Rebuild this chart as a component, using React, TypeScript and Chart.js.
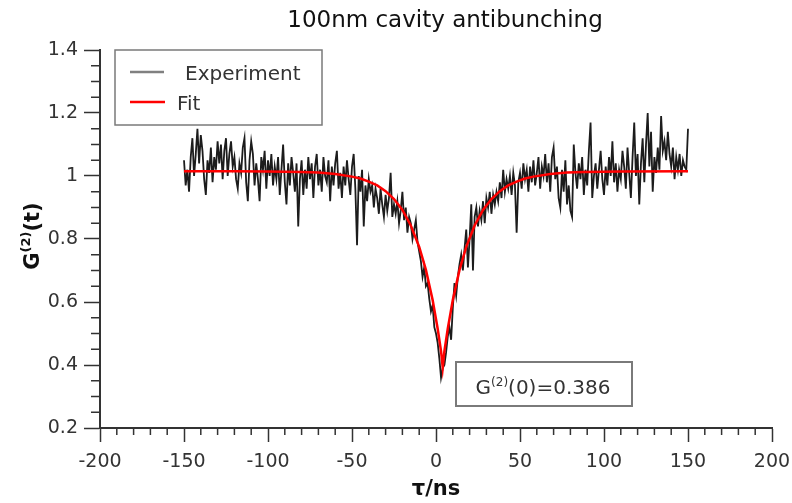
import React, { useEffect, useRef } from "react";
import { Chart, registerables } from "chart.js";

Chart.register(...registerables);

const TITLE = "100nm cavity antibunching";
const X_LABEL = "τ/ns";
const LEGEND_LABELS = ["Experiment", "Fit"];
const ANNOTATION_VALUE = "0.386";

const X_MIN = -200;
const X_MAX = 200;
const X_STEP = 50;
const X_MINOR = 10;
const Y_MIN = 0.2;
const Y_MAX = 1.4;
const Y_STEP = 0.2;
const Y_MINOR = 0.05;

// Experiment: regular tau grid from -150 ns to 150 ns in 1 ns bins
const TAU_START = -150;
const TAU_STEP = 1;
const experimentValues = [
  1.05, 0.97, 1.02, 0.95, 1.06, 1.12, 1.0, 1.07, 1.15, 1.04,
  1.13, 1.08, 0.99, 0.94, 1.05, 1.01, 1.09, 0.98, 1.06, 1.02,
  1.11, 1.04, 1.1, 0.99, 1.08, 1.12, 1.0, 1.07, 1.11, 1.03,
  1.06, 0.99, 0.96, 1.04, 1.01, 1.09, 1.12, 0.98, 0.92, 1.05,
  1.11, 1.07, 0.97, 1.04, 0.99, 0.92, 1.06, 1.02, 1.08, 0.96,
  1.05, 1.0, 1.07, 0.97, 1.03, 0.99, 1.06, 0.94, 1.02, 1.1,
  0.98, 0.91, 1.04, 0.97, 1.06, 1.01, 0.95, 1.04, 0.84, 0.99,
  1.05, 0.94, 1.02, 0.96, 1.06, 0.99, 1.04, 0.93, 1.03, 1.07,
  0.97, 1.02, 0.95, 1.06, 1.0, 0.98, 1.05, 0.92, 1.03, 0.97,
  1.04, 1.08, 0.96, 1.01, 0.93, 1.03, 0.97, 1.05, 0.99, 0.94,
  1.03, 1.07, 0.96, 0.78, 1.0, 0.95, 1.02, 0.84, 0.97, 0.92,
  0.99, 0.95, 0.97, 0.9, 0.96, 0.93, 0.88, 0.96, 0.91, 0.87,
  0.94, 0.89, 0.93, 1.01, 0.87, 0.91, 0.88, 0.92, 0.85, 0.89,
  0.95, 0.86, 0.9, 0.82, 0.87, 0.85, 0.8, 0.83, 0.86, 0.79,
  0.76, 0.73, 0.68, 0.71, 0.65, 0.66, 0.61, 0.57, 0.59, 0.52,
  0.5, 0.47, 0.42, 0.36, 0.39, 0.4, 0.44, 0.49, 0.52, 0.48,
  0.58, 0.66, 0.62, 0.68, 0.72, 0.75, 0.7, 0.77, 0.83, 0.71,
  0.8, 0.91, 0.7, 0.87, 0.9, 0.84, 0.89, 0.86, 0.92, 0.85,
  0.93, 0.9, 0.95, 0.88, 0.94, 0.91, 0.95, 0.92, 0.98, 0.93,
  1.02, 0.95, 0.99, 0.96, 1.0, 0.94, 1.01, 0.97, 0.82, 0.98,
  1.01, 0.96, 1.04, 0.99, 1.02, 0.95, 1.03, 0.98, 1.05, 0.97,
  1.01, 1.06, 0.96, 1.03, 1.0, 1.07, 0.98, 1.04, 0.95, 1.06,
  1.09, 0.99, 1.03, 0.93, 0.9, 1.02, 0.95, 1.05, 0.91, 0.97,
  0.89, 0.87, 1.1, 1.01, 0.96, 1.04, 0.99, 1.06, 0.94, 1.02,
  0.97, 1.08, 1.17, 0.93, 1.0, 1.04, 0.96, 1.02, 1.08, 0.99,
  0.94, 1.03, 0.97, 1.06, 1.0, 1.11, 0.98, 1.04, 0.95, 1.02,
  0.99, 1.08, 1.03, 0.96, 1.09, 1.01, 0.93, 1.06, 1.17, 1.0,
  1.07, 0.91, 1.04, 1.12, 0.98, 1.1, 1.2, 1.03, 1.14, 0.95,
  1.06, 1.01, 1.09, 1.02, 1.19, 1.08, 1.11, 1.05, 1.14, 1.07,
  1.03, 1.09, 0.99, 1.06, 1.02, 1.07, 1.0, 1.05, 1.03, 1.02,
  1.15,
];

const fitTau = [
  -150, -120, -100, -80, -70, -60, -50, -45, -40, -35,
  -30, -25, -20, -15, -10, -6, -2, 1, 3, 4,
  5, 7, 10, 14, 18, 23, 28, 33, 38, 43,
  48, 53, 58, 68, 78, 88, 110, 150,
];
const fitValues = [
  1.015, 1.015, 1.014, 1.013, 1.011, 1.006, 0.998, 0.992, 0.982, 0.97,
  0.952, 0.927, 0.892, 0.843, 0.775, 0.702, 0.606, 0.515, 0.444, 0.392,
  0.444, 0.515, 0.606, 0.702, 0.775, 0.843, 0.892, 0.927, 0.952, 0.97,
  0.982, 0.992, 0.998, 1.006, 1.011, 1.013, 1.014, 1.015,
];

const FONT = '"DejaVu Sans", Verdana, sans-serif';
const AXIS_COLOR = "#333333";
const TEXT_COLOR = "#333333";
const EXP_COLOR = "#1c1c1c";
const FIT_COLOR = "#ff0000";

function drawSuperLabel(
  ctx: CanvasRenderingContext2D,
  parts: { base: string; sup: string; rest: string },
  cx: number,
  baseline: number,
  size: number,
  supSize: number,
  weight: string
) {
  const big = `${weight} ${size}px ${FONT}`;
  const small = `${weight} ${supSize}px ${FONT}`;
  ctx.font = big;
  const w1 = ctx.measureText(parts.base).width;
  const w3 = ctx.measureText(parts.rest).width;
  ctx.font = small;
  const w2 = ctx.measureText(parts.sup).width;
  const total = w1 + w2 + w3;
  let x = cx - total / 2;
  ctx.textAlign = "left";
  ctx.textBaseline = "alphabetic";
  ctx.font = big;
  ctx.fillText(parts.base, x, baseline);
  x += w1;
  ctx.font = small;
  ctx.fillText(parts.sup, x, baseline - size * 0.42);
  x += w2;
  ctx.font = big;
  ctx.fillText(parts.rest, x, baseline);
}

const decorPlugin = {
  id: "decor",
  afterDraw(chart: any) {
    const ctx: CanvasRenderingContext2D = chart.ctx;
    const xs = chart.scales.x;
    const ys = chart.scales.y;
    const area = chart.chartArea;
    ctx.save();

    // minor ticks
    ctx.strokeStyle = AXIS_COLOR;
    ctx.lineWidth = 1.5;
    ctx.beginPath();
    const nx = Math.round((X_MAX - X_MIN) / X_MINOR);
    for (let i = 0; i <= nx; i++) {
      const v = X_MIN + i * X_MINOR;
      if (v % X_STEP === 0) continue;
      const p = xs.getPixelForValue(v);
      ctx.moveTo(p, area.bottom);
      ctx.lineTo(p, area.bottom + 7);
    }
    const ny = Math.round((Y_MAX - Y_MIN) / Y_MINOR);
    const per = Math.round(Y_STEP / Y_MINOR);
    for (let i = 0; i <= ny; i++) {
      if (i % per === 0) continue;
      const v = Y_MIN + i * Y_MINOR;
      const p = ys.getPixelForValue(v);
      ctx.moveTo(area.left, p);
      ctx.lineTo(area.left - 9, p);
    }
    ctx.stroke();

    // title
    ctx.fillStyle = "#111111";
    ctx.font = `23px ${FONT}`;
    ctx.textAlign = "center";
    ctx.textBaseline = "alphabetic";
    ctx.fillText(TITLE, 445, 27);

    // y axis title (rotated)
    ctx.save();
    ctx.translate(39, area.top + (area.bottom - area.top) / 2 - 3);
    ctx.rotate(-Math.PI / 2);
    ctx.fillStyle = "#111111";
    drawSuperLabel(ctx, { base: "G", sup: "(2)", rest: "(t)" }, 0, 0, 21, 13, "bold");
    ctx.restore();

    // legend box
    const lx = area.left + 15;
    const ly = area.top;
    const lw = 207;
    const lh = 75;
    ctx.fillStyle = "#ffffff";
    ctx.fillRect(lx, ly, lw, lh);
    ctx.strokeStyle = "#7a7a7a";
    ctx.lineWidth = 1.5;
    ctx.strokeRect(lx, ly, lw, lh);
    ctx.lineWidth = 2.5;
    ctx.strokeStyle = "#808080";
    ctx.beginPath();
    ctx.moveTo(lx + 15, ly + 22);
    ctx.lineTo(lx + 49, ly + 22);
    ctx.stroke();
    ctx.strokeStyle = FIT_COLOR;
    ctx.beginPath();
    ctx.moveTo(lx + 15, ly + 52);
    ctx.lineTo(lx + 50, ly + 52);
    ctx.stroke();
    ctx.fillStyle = TEXT_COLOR;
    ctx.font = `20px ${FONT}`;
    ctx.textAlign = "left";
    ctx.textBaseline = "alphabetic";
    ctx.fillText(LEGEND_LABELS[0], lx + 70, ly + 30);
    ctx.fillText(LEGEND_LABELS[1], lx + 62, ly + 60);

    // annotation box
    const bx = 456;
    const by = 362;
    const bw = 176;
    const bh = 44;
    ctx.fillStyle = "#ffffff";
    ctx.fillRect(bx, by, bw, bh);
    ctx.strokeStyle = "#7a7a7a";
    ctx.lineWidth = 2;
    ctx.strokeRect(bx, by, bw, bh);
    ctx.fillStyle = TEXT_COLOR;
    drawSuperLabel(
      ctx,
      { base: "G", sup: "(2)", rest: "(0)=" + ANNOTATION_VALUE },
      bx + bw / 2 - 1,
      by + 32,
      20,
      12,
      "normal"
    );

    ctx.restore();
  },
};

export default function App() {
  const canvasRef = useRef<HTMLCanvasElement | null>(null);

  useEffect(() => {
    const canvas = canvasRef.current;
    if (!canvas) return;
    const expData = experimentValues.map((y, i) => ({ x: TAU_START + i * TAU_STEP, y }));
    const fitData = fitTau.map((x, i) => ({ x, y: fitValues[i] }));

    const chart = new Chart(canvas, {
      type: "line",
      data: {
        datasets: [
          {
            label: LEGEND_LABELS[1],
            data: fitData,
            borderColor: FIT_COLOR,
            borderWidth: 2.5,
            pointRadius: 0,
            tension: 0,
            order: 0,
          },
          {
            label: LEGEND_LABELS[0],
            data: expData,
            borderColor: EXP_COLOR,
            borderWidth: 1.8,
            pointRadius: 0,
            tension: 0,
            order: 1,
          },
        ],
      },
      options: {
        responsive: false,
        maintainAspectRatio: false,
        devicePixelRatio: 1,
        animation: false,
        layout: { padding: { top: 50, right: 20, left: 0, bottom: 0 } },
        plugins: {
          legend: { display: false },
          title: { display: false },
          tooltip: { enabled: false },
        },
        scales: {
          x: {
            type: "linear",
            min: X_MIN,
            max: X_MAX,
            afterFit: (s: any) => {
              s.height = 75;
              s.paddingLeft = 0;
              s.paddingRight = 0;
            },
            ticks: {
              stepSize: X_STEP,
              color: TEXT_COLOR,
              font: { family: FONT, size: 19 },
              padding: 9,
              maxRotation: 0,
              autoSkip: false,
            },
            grid: {
              drawOnChartArea: false,
              drawTicks: true,
              tickLength: 14,
              tickColor: AXIS_COLOR,
              tickWidth: 1.5,
            },
            border: { display: true, color: AXIS_COLOR, width: 2 },
            title: {
              display: true,
              text: X_LABEL,
              color: "#111111",
              font: { family: FONT, size: 21, weight: "bold" },
              padding: { top: 0, bottom: 1 },
            },
          },
          y: {
            type: "linear",
            min: Y_MIN,
            max: Y_MAX,
            afterFit: (s: any) => {
              s.width = 100;
              s.paddingTop = 0;
              s.paddingBottom = 0;
            },
            ticks: {
              stepSize: Y_STEP,
              color: TEXT_COLOR,
              font: { family: FONT, size: 19 },
              padding: 6,
              autoSkip: false,
              callback: (v: any) => String(Math.round(Number(v) * 10) / 10),
            },
            grid: {
              drawOnChartArea: false,
              drawTicks: true,
              tickLength: 16,
              tickColor: AXIS_COLOR,
              tickWidth: 1.5,
            },
            border: { display: true, color: AXIS_COLOR, width: 2 },
          },
        },
      },
      plugins: [decorPlugin],
    });
    return () => chart.destroy();
  }, []);

  return (
    <div style={{ position: "absolute", left: 0, top: 0, width: 792, height: 503, background: "#ffffff" }}>
      <canvas ref={canvasRef} width={792} height={503} style={{ display: "block" }} />
    </div>
  );
}
